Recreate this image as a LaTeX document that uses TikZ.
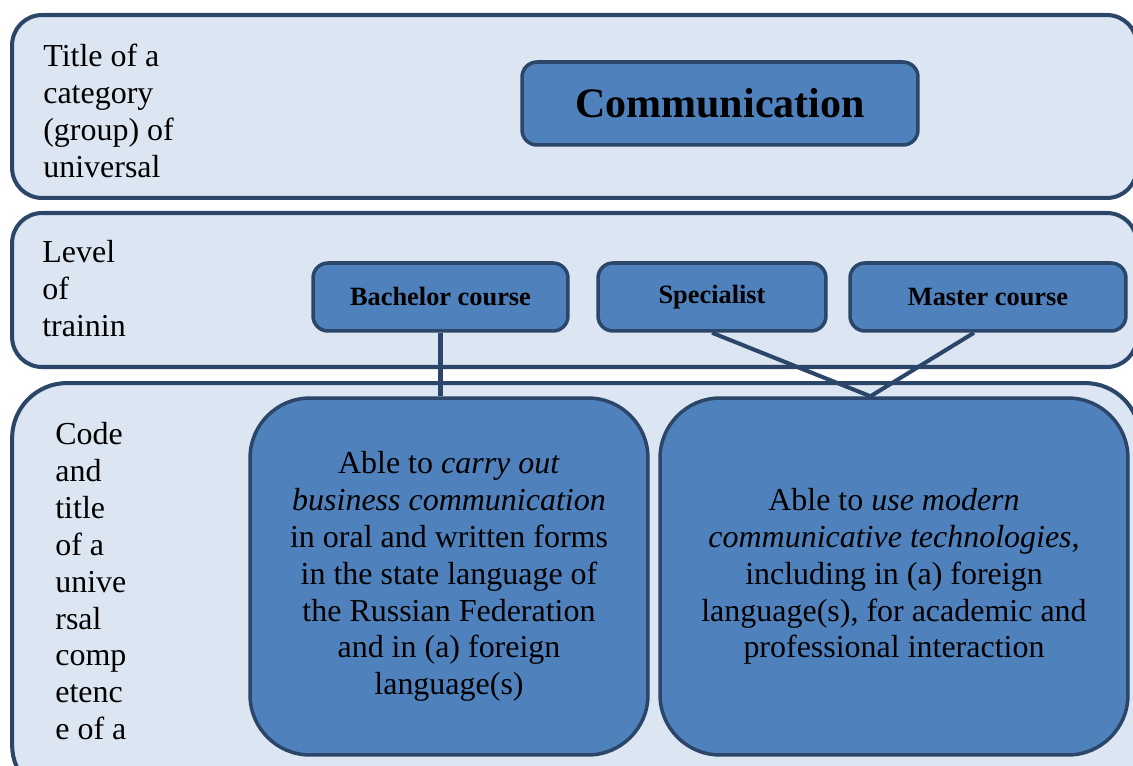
\documentclass[tikz,border=0pt]{standalone}
\usepackage{fontspec}
\setmainfont{Liberation Serif}
\usetikzlibrary{calc}

\definecolor{bandfill}{HTML}{DCE6F2}
\definecolor{boxfill}{HTML}{4F81BD}
\definecolor{edgeblue}{HTML}{2B4669}

\begin{document}
\begin{tikzpicture}[
    x=0.02cm, y=-0.02cm,
    band/.style={rectangle, draw=edgeblue, fill=bandfill, line width=2.3pt, rounded corners=0.6cm},
    levelbox/.style={rectangle, draw=edgeblue, fill=boxfill, line width=2pt, rounded corners=0.3cm, minimum height=1.36cm, align=center, font=\fontsize{15}{18}\selectfont\bfseries},
    compbox/.style={rectangle, draw=edgeblue, fill=boxfill, line width=2pt, rounded corners=1.2cm, minimum height=7.14cm, align=center, font=\fontsize{18.2}{21}\selectfont},
    rowlabel/.style={anchor=north west, inner sep=0pt, align=left, font=\fontsize{18.2}{21}\selectfont},
    link/.style={draw=edgeblue, line width=2.3pt}
]
\useasboundingbox (0,0) rectangle (1133,766);
\clip (0,0) rectangle (1133,766);

% Rows
\node[band, minimum width=22.5cm, minimum height=3.66cm] (rowcat) at (574.5,106.5) {};
\node[band, minimum width=22.5cm, minimum height=3.08cm] (rowlevel) at (574.5,290) {};
\node[band, rounded corners=1.1cm, minimum width=22.56cm, minimum height=8.34cm] (rowcode) at (576,591.5) {};

% Row labels
\node[rowlabel] (catlabel) at (43,44) {Title of a\\category\\(group) of\\universal};
\node[rowlabel] (levellabel) at (42,240) {Level\\of\\trainin};
\node[rowlabel] (codelabel) at (55,422) {Code\\and\\title\\of a\\unive\\rsal\\comp\\etenc\\e of a};

% Category
\node[levelbox, rounded corners=0.3cm, minimum width=7.92cm, minimum height=1.66cm, font=\fontsize{23.9}{28}\selectfont\bfseries] (comm) at (720,103.5) {Communication};

% Levels of training
\node[levelbox, minimum width=5.1cm] (bach) at (440.5,297) {Bachelor course};
\node[levelbox, minimum width=4.56cm] (spec) at (712,297) {Specialist};
\node[levelbox, minimum width=5.52cm] (mast) at (988,297) {Master course};

% Competences
\node[compbox, minimum width=7.96cm] (ucbus) at (449,576.5) {Able to \textit{carry out}\\\textit{business communication}\\in oral and written forms\\in the state language of\\the Russian Federation\\and in (a) foreign\\language(s)};
\node[compbox, minimum width=9.36cm] (uctech) at (894,576.5) {Able to \textit{use modern}\\\textit{communicative technologies},\\including in (a) foreign\\language(s), for academic and\\professional interaction};

% Connections
\coordinate (meet) at ($(uctech.north west)!0.45!(uctech.north east)$);
\coordinate (mastfoot) at ($(mast.south west)!0.45!(mast.south east)$);
\draw[link] (bach.south) -- (bach.south |- ucbus.north);
\draw[link] (spec.south) -- (meet);
\draw[link] (mastfoot) -- (meet);

\end{tikzpicture}
\end{document}
